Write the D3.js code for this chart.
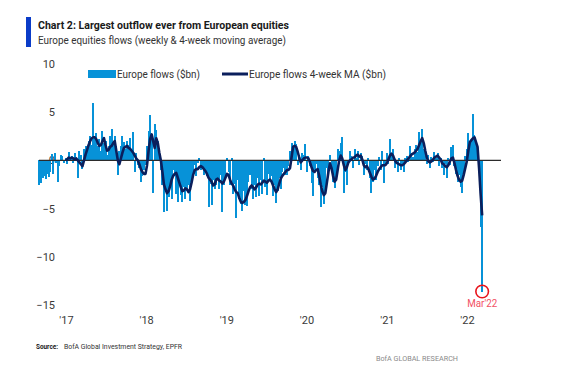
<!DOCTYPE html>
<html>
<head>
<meta charset="utf-8">
<script src="https://cdn.jsdelivr.net/npm/d3@7"></script>
<style>
	body { margin: 0; background: #fff; }
	svg { display: block; font-family: "Liberation Sans Narrow", Roboto, "DejaVu Sans", sans-serif; }
</style>
</head>
<body>
<svg id="chart" width="572" height="387"></svg>
<script>
// weekly Europe equity flows ($bn), first week Sep 2 2016
const startWeek = new Date(2016, 8, 2);
const flows16 = [-2.5, -2.3, -1.8, -1.6, -1.9, -1.4, -1.7, -1.2, 0.7, -1.4, 0.8, -0.3, -2.2, -0.6, 0.6, 0.5, -0.3];
const flows17 = [0.3, -0.4, 0.9, 0.2, 0.5, -0.3, 0.8, 0.3, -1.8, 1.0,
	0.6, -0.9, 1.2, 1.5, 1.3, 2.0, 2.5, 1.6, 6.0, 2.3,
	2.8, 1.5, 2.2, 1.0, 3.0, 1.8, 2.0, 0.6, 1.5, 2.5,
	3.3, 2.0, 2.5, 1.5, -1.5, 1.0, 1.5, 2.5, 1.9, 1.2,
	2.0, 1.6, 2.3, 1.0, 2.9, -1.2, 0.8, -0.5, -0.8, -2.2,
	-1.6, -1.0];
const flows18 = [-0.5, 1.5, 3.0, 4.7, 2.6, -3.4, 3.8, 3.2, 2.0, 1.0,
	-1.0, -2.5, -5.4, -3.0, -5.2, -3.8, -2.2, -4.0, -1.0, -1.6,
	-3.5, -4.3, -2.0, -3.6, -4.3, -2.8, -4.0, -3.2, -2.5, -4.2,
	-2.0, -1.2, -0.5, -1.6, -0.3, 0.3, -1.0, -0.8, -1.5, -1.2,
	-1.6, -4.8, -2.4, -4.6, -2.0, -3.0, -2.5, -1.8, -3.0, -1.5,
	-5.4, -2.5];
const flows19 = [-2.0, 0.2, -1.2, -2.5, 0.3, -3.5, -2.4, -6.0, -2.0, -4.0,
	-4.5, -5.3, -3.2, -4.6, -4.7, -2.2, -1.5, -3.0, -4.0, -2.6,
	-3.8, -1.8, -3.7, -2.0, -3.5, 0.3, -2.8, -3.6, -1.4, -2.0,
	-1.6, -3.7, -2.5, -4.4, -3.2, -1.8, -3.0, -1.2, -0.8, -1.5,
	-1.5, -0.6, 1.0, 1.8, 1.2, 2.0, 1.7, -0.5, 0.4, -1.0,
	0.8, 0.6];
const flows20 = [1.7, -1.2, 0.5, -0.6, -2.3, -3.7, -1.0, -0.4, -1.8, -2.5,
	-4.8, -2.8, -4.5, -3.0, -0.8, -1.5, 0.6, -1.2, -2.2, -2.9,
	-2.0, 1.2, 1.0, 1.8, 2.4, -3.4, -1.2, -2.5, -0.3, 1.0,
	0.5, -0.8, 1.2, 0.3, 1.0, -0.5, 0.8, 0.5, -1.5, -0.4,
	-1.0, 0.3, -1.8, -3.4, -2.2, -1.0, -2.0, -0.6, 0.4, -1.0,
	1.0, -2.3];
const flows21 = [-0.6, 0.8, -0.4, 2.2, 0.6, 1.2, -0.8, -0.3, -1.2, 0.2,
	-1.0, -0.5, -1.2, 0.3, 0.5, -0.2, 1.5, 0.8, 0.4, 1.2,
	1.6, 0.9, 2.9, 1.8, 3.3, 1.2, 0.5, -0.4, 0.6, -0.8,
	0.4, -0.2, 0.9, 0.3, 0.8, -0.6, 0.2, -0.8, -1.5, -0.4,
	-1.8, 0.3, -0.5, 1.4, 1.6, -0.6, -1.4, -2.2, -1.5, -2.8,
	-3.4, -1.2];
const flows22 = [0.5, 1.2, 2.8, 1.5, 2.0, 4.8, 2.6, 1.8, 1.0, -0.5, -6.9, -13.6];

// 4-week moving average ($bn), starts with the first 2017 week
const ma17 = [0.0, 0.1, 0.3, 0.2, 0.3, 0.2, 0.1, 0.2, 0.0, -0.2,
	-0.4, -0.6, 0.0, 0.6, 1.1, 1.6, 2.0, 2.3, 2.4, 2.4,
	2.2, 1.8, 1.5, 1.6, 2.0, 2.3, 1.6, 1.0, 1.1, 1.4,
	1.5, 1.8, 2.0, 1.0, 0.0, -0.4, 0.2, 0.8, 1.3, 1.4,
	1.5, 1.3, 1.2, 1.0, 0.8, 0.5, 0.2, 0.0, -0.4, -0.9,
	-1.2, -1.4];
const ma18 = [-1.4, -0.5, 1.0, 2.2, 2.7, 2.0, 1.3, 2.3, 1.8, 0.8,
	0.0, -1.2, -2.5, -3.0, -3.4, -3.2, -2.7, -2.0, -1.6, -1.4,
	-1.3, -1.8, -2.3, -2.8, -3.2, -3.1, -2.9, -3.0, -3.3, -3.0,
	-2.3, -1.5, -1.0, -0.9, -0.9, -0.7, -0.6, -0.7, -0.9, -1.1,
	-1.4, -1.8, -2.0, -2.2, -2.6, -2.5, -2.0, -1.9, -2.1, -2.2,
	-2.4, -2.2];
const ma19 = [-1.8, -1.4, -1.5, -2.0, -2.4, -2.6, -3.0, -3.3, -3.4, -3.9,
	-4.3, -4.4, -4.3, -4.1, -3.7, -3.2, -2.8, -2.6, -2.8, -3.0,
	-2.8, -2.5, -2.4, -2.5, -2.3, -2.1, -2.2, -2.3, -2.1, -2.0,
	-2.2, -2.6, -3.0, -3.3, -3.0, -2.4, -1.9, -1.6, -1.4, -1.2,
	-1.0, -1.0, -0.8, 0.3, 1.4, 1.5, 1.4, 0.9, 0.3, -0.2,
	0.0, 0.2];
const ma20 = [0.3, 0.3, 0.2, -0.2, -0.7, -1.1, -1.2, -1.0, -0.9, -1.6,
	-2.5, -3.2, -3.6, -3.4, -2.3, -1.2, -0.3, -0.8, -1.6, -2.2,
	-2.0, -1.0, 0.0, 0.5, 0.2, -0.5, -1.0, -0.7, -0.2, 0.0,
	0.1, 0.3, 0.3, 0.5, 0.6, 0.4, 0.5, 0.1, -0.5, -0.7,
	-0.6, -0.9, -1.3, -1.7, -2.0, -1.9, -1.6, -1.2, -0.9, -0.7,
	-0.5, -0.5];
const ma21 = [-0.5, -0.3, 0.1, 0.5, 0.7, 0.5, 0.1, -0.2, -0.3, -0.4,
	-0.5, -0.5, -0.4, -0.2, 0.0, 0.2, 0.4, 0.6, 0.7, 0.8,
	1.0, 1.2, 1.6, 2.0, 2.3, 1.8, 1.0, 0.3, -0.1, -0.2,
	-0.1, 0.1, 0.3, 0.4, 0.5, 0.3, 0.1, -0.3, -0.4, -0.6,
	-0.7, -0.5, -0.1, 0.2, 0.3, -0.3, -1.0, -1.6, -2.0, -2.2,
	-2.1, -1.5];
const ma22 = [-0.8, -0.1, 1.0, 1.9, 2.1, 2.3, 2.4, 1.9, 1.4, -0.8, -3.5, -5.7];

const yTicks = [10, 5, 0, -5, -10, -15];
const yearTicks = [2017, 2018, 2019, 2020, 2021, 2022];
const yearLabels = ["'17", "'18", "'19", "'20", "'21", "'22"];
const seriesNames = ["Europe flows ($bn)", "Europe flows 4-week MA ($bn)"];
const calloutLabel = "Mar'22";

const barBlue = "#0792d8";
const navy = "#0b1f5c";

const drawChart = (svg_name) => {
	let chart = d3.select(svg_name);
	let flows = [].concat(flows16, flows17, flows18, flows19, flows20, flows21, flows22);
	let maVals = [].concat(ma17, ma18, ma19, ma20, ma21, ma22);
	let maStart = flows16.length;
	let data = flows.map((v, i) => ({date: d3.timeDay.offset(startWeek, 7 * i), flow: v}));
	let maData = maVals.map((v, i) => ({date: data[maStart + i].date, ma: v}));

	let x = d3.scaleTime()
		.domain([new Date(2017, 0, 1), new Date(2022, 0, 1)])
		.range([66, 467]);
	let y = d3.scaleLinear()
		.domain([-15, 10])
		.range([305, 64]);

	addHeader(chart);
	addYAxis(chart, y);
	addXAxis(chart, x);
	addBars(chart, data, x, y);

	// zero line
	chart.append("line")
		.attr("x1", 39).attr("x2", 501)
		.attr("y1", y(0)).attr("y2", y(0))
		.attr("stroke", "#2b2b2b")
		.attr("stroke-width", 1.3);

	chart.append("path")
		.datum(maData)
		.attr("fill", "none")
		.attr("stroke", navy)
		.attr("stroke-width", 2.6)
		.attr("stroke-linejoin", "round")
		.attr("d", d3.line().x(d => x(d.date)).y(d => y(d.ma)));

	addLegend(chart);
	addCallout(chart, data[data.length - 1], x, y);
	addFooter(chart);
}

const addBars = (chart, data, x, y) => {
	chart.append("g")
		.attr("shape-rendering", "crispEdges")
		.selectAll("rect")
		.data(data)
		.enter()
		.append("rect")
			.attr("x", d => x(d.date) - 1)
			.attr("y", d => Math.min(y(d.flow), y(0)))
			.attr("width", 2)
			.attr("height", d => Math.abs(y(d.flow) - y(0)))
			.attr("fill", barBlue);
}

const addYAxis = (chart, y) => {
	let y_axis = d3.axisLeft(y).tickValues(yTicks).tickSize(0).tickPadding(3);
	let g = chart.append("g")
		.attr("transform", "translate(58,0)")
		.call(y_axis);
	g.select(".domain").remove();
	g.selectAll("text")
		.style("font-family", "Roboto, sans-serif")
		.style("font-size", "11px")
		.attr("fill", "#3a3a3a");
}

const addXAxis = (chart, x) => {
	let x_axis = d3.axisBottom(x)
		.tickValues(yearTicks.map(yr => new Date(yr, 0, 1)))
		.tickFormat((d, i) => yearLabels[i])
		.tickSize(0);
	let g = chart.append("g")
		.attr("transform", "translate(0,324)")
		.call(x_axis);
	g.select(".domain").remove();
	g.selectAll("text")
		.attr("y", 0).attr("dy", 0)
		.style("font-family", "Roboto, sans-serif")
		.style("font-size", "11px")
		.attr("fill", "#3a3a3a");
}

const fitText = (chart, txt, xPos, yPos, len, size, weight, color) => {
	return chart.append("text")
		.attr("x", xPos).attr("y", yPos)
		.attr("textLength", len)
		.attr("lengthAdjust", "spacingAndGlyphs")
		.style("font-size", size + "px")
		.style("font-weight", weight)
		.attr("fill", color)
		.text(txt);
}

const addHeader = (chart) => {
	chart.append("rect")
		.attr("x", 26).attr("y", 17)
		.attr("width", 5).attr("height", 30)
		.attr("fill", "#0a3cc8");
	fitText(chart, "Chart 2: Largest outflow ever from European equities", 38, 29, 251, 11.5, "bold", "#1a1a1a");
	fitText(chart, "Europe equities flows (weekly & 4-week moving average)", 38, 44, 248, 11.5, "normal", "#333");
}

const addLegend = (chart) => {
	chart.append("rect")
		.attr("x", 88).attr("y", 70)
		.attr("width", 28).attr("height", 8)
		.attr("fill", barBlue);
	fitText(chart, seriesNames[0], 117, 78, 83, 11, "normal", "#333");
	chart.append("line")
		.attr("x1", 222).attr("x2", 248)
		.attr("y1", 74).attr("y2", 74)
		.attr("stroke", navy)
		.attr("stroke-width", 3);
	fitText(chart, seriesNames[1], 249, 78, 137, 11, "normal", "#333");
}

const addCallout = (chart, last, x, y) => {
	chart.append("circle")
		.attr("cx", x(last.date))
		.attr("cy", y(last.flow))
		.attr("r", 6.3)
		.attr("fill", "none")
		.attr("stroke", "#e8141c")
		.attr("stroke-width", 1.6);
	chart.append("text")
		.attr("x", x(last.date)).attr("y", 307)
		.attr("text-anchor", "middle")
		.attr("textLength", 30)
		.attr("lengthAdjust", "spacingAndGlyphs")
		.style("font-size", "10.5px")
		.attr("fill", "#f25064")
		.text(calloutLabel);
}

const addFooter = (chart) => {
	fitText(chart, "Source:", 36, 349, 22, 8, "bold", "#1a1a1a");
	fitText(chart, "BofA Global Investment Strategy, EPFR", 64, 349, 118, 8, "normal", "#333");
	fitText(chart, "BofA GLOBAL RESEARCH", 376, 361, 82, 8, "normal", "#8a8a8a");
}

drawChart("#chart");
</script>
</body>
</html>
